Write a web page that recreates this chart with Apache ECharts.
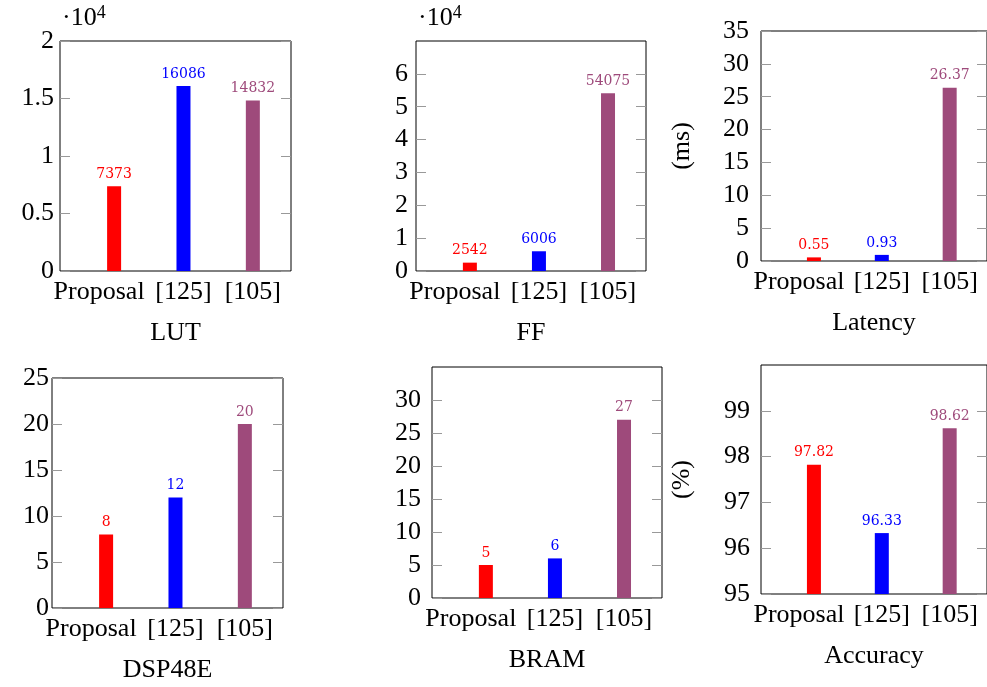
<!DOCTYPE html>
<html>
<head>
<meta charset="utf-8">
<script src="https://cdn.jsdelivr.net/npm/echarts@6/dist/echarts.min.js"></script>
<style>
html,body{margin:0;padding:0;background:#fff;}
#chart{width:987px;height:687px;}
</style>
</head>
<body>
<div id="chart"></div>
<script>
// ---- data ----
const categories = ['Proposal', '[125]', '[105]'];
const catPositions = [1, 2, 3];

const lutValues = [7373, 16086, 14832];
const ffValues = [2542, 6006, 54075];
const latencyValues = [0.55, 0.93, 26.37];
const dspValues = [8, 12, 20];
const bramValues = [5, 6, 27];
const accuracyValues = [97.82, 96.33, 98.62];

const lutTicks = [0, 5000, 10000, 15000, 20000];
const ffTicks = [0, 10000, 20000, 30000, 40000, 50000, 60000];
const latencyTicks = [0, 5, 10, 15, 20, 25, 30, 35];
const dspTicks = [0, 5, 10, 15, 20, 25];
const bramTicks = [0, 5, 10, 15, 20, 25, 30];
const accuracyTicks = [95, 96, 97, 98, 99];

const barColors = ['#ff0000', '#0000ff', '#9e4a7b'];

// ---- layout / styling ----
const SERIF = '"Liberation Serif", "Times New Roman", serif';
const SMALL = '"DejaVu Serif", serif';

const panels = [
  {title: 'LUT', values: lutValues, ticks: lutTicks, min: 0, max: 20000, scaled: true,
   grid: {left: 60, top: 41, width: 231, height: 230}, labelMargin: 6},
  {title: 'FF', values: ffValues, ticks: ffTicks, min: 0, max: 70000, scaled: true,
   grid: {left: 416, top: 41, width: 230, height: 230}, labelMargin: 8},
  {title: 'Latency', values: latencyValues, ticks: latencyTicks, min: 0, max: 35, yName: '(ms)',
   grid: {left: 761, top: 31, width: 230, height: 230}, labelMargin: 12},
  {title: 'DSP48E', values: dspValues, ticks: dspTicks, min: 0, max: 25,
   grid: {left: 52, top: 378, width: 231, height: 230}, labelMargin: 3},
  {title: 'BRAM', values: bramValues, ticks: bramTicks, min: 0, max: 35,
   grid: {left: 432, top: 367, width: 230, height: 231}, labelMargin: 11},
  {title: 'Accuracy', values: accuracyValues, ticks: accuracyTicks, min: 95, max: 100, yName: '(%)',
   grid: {left: 761, top: 365, width: 230, height: 229}, labelMargin: 11}
];

const grids = [], xAxes = [], yAxes = [], series = [];

panels.forEach((p, i) => {
  grids.push(Object.assign({show: true, borderColor: '#000', borderWidth: 1, containLabel: false}, p.grid));
  xAxes.push({
    type: 'value', gridIndex: i, min: 0.22, max: 3.55,
    name: p.title, nameLocation: 'middle', nameGap: 49,
    nameTextStyle: {fontFamily: SERIF, fontSize: 26, color: '#000'},
    axisLine: {show: false}, axisTick: {show: false}, splitLine: {show: false},
    axisLabel: {
      customValues: catPositions, margin: 8, hideOverlap: false,
      showMinLabel: true, showMaxLabel: true,
      fontFamily: SERIF, fontSize: 26, color: '#000',
      formatter: v => {
        const k = catPositions.indexOf(Number(v));
        return k === 0 ? '{p|' + categories[k] + '}' : (categories[k] || '');
      },
      rich: {p: {fontFamily: SERIF, fontSize: 26, color: '#000', padding: [0, 30, 0, 0]}}
    }
  });
  const leftAxis = {
    type: 'value', gridIndex: i, position: 'left', min: p.min, max: p.max,
    axisLine: {show: false}, splitLine: {show: false},
    axisTick: {show: true, inside: true, length: 10, customValues: p.ticks, lineStyle: {color: '#999', width: 1}},
    axisLabel: {
      customValues: p.ticks, margin: p.labelMargin, fontFamily: SERIF, fontSize: 26, color: '#000',
      showMinLabel: true, showMaxLabel: true, hideOverlap: false,
      formatter: v => p.scaled ? String(Number(v) / 10000) : String(v)
    }
  };
  if (p.scaled) {
    leftAxis.name = '·10{s|4}';
    leftAxis.nameLocation = 'end';
    leftAxis.nameGap = 9;
    leftAxis.nameTextStyle = {fontFamily: SERIF, fontSize: 26, color: '#000', align: 'left', verticalAlign: 'bottom', padding: [0, 0, 0, 2],
      rich: {s: {fontFamily: SERIF, fontSize: 18, color: '#000', verticalAlign: 'top', padding: [0, 0, 10, 0]}}};
  }
  if (p.yName) {
    leftAxis.name = p.yName;
    leftAxis.nameLocation = 'middle';
    leftAxis.nameRotate = 90;
    leftAxis.nameGap = 66;
    leftAxis.nameTextStyle = {fontFamily: SERIF, fontSize: 26, color: '#000'};
  }
  yAxes.push(leftAxis);
  yAxes.push({
    type: 'value', gridIndex: i, position: 'right', min: p.min, max: p.max,
    axisLine: {show: false}, splitLine: {show: false}, axisLabel: {show: false},
    axisTick: {show: true, inside: true, length: 10, customValues: p.ticks, lineStyle: {color: '#999', width: 1}}
  });
  series.push({
    type: 'bar', xAxisIndex: i, yAxisIndex: 2 * i, barWidth: 14,
    data: p.values.map((v, k) => ({
      value: [catPositions[k], v],
      itemStyle: {color: barColors[k]},
      label: {color: barColors[k]}
    })),
    label: {
      show: true, position: 'top', distance: 5,
      fontFamily: SMALL, fontSize: 14,
      formatter: prm => String(prm.value[1])
    },
    silent: true, animation: false
  });
});

const chart = echarts.init(document.getElementById('chart'), null, {renderer: 'canvas'});
chart.setOption({
  backgroundColor: '#fff',
  animation: false,
  grid: grids, xAxis: xAxes, yAxis: yAxes, series: series
});
</script>
</body>
</html>
